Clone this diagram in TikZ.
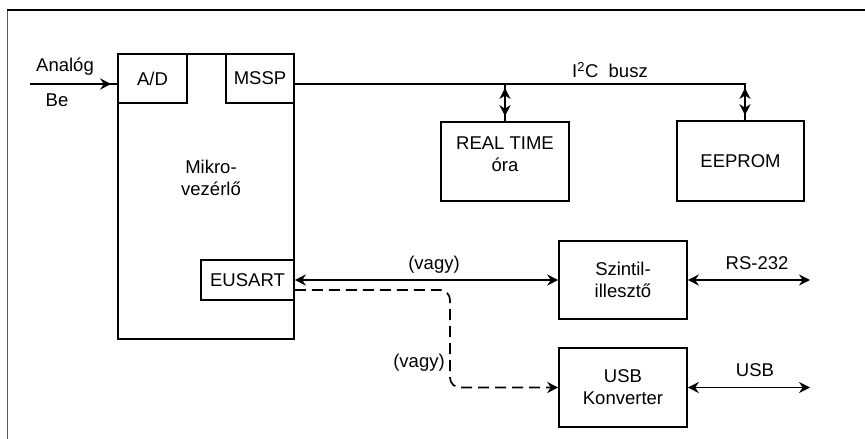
\documentclass[tikz,border=0pt]{standalone}
\usepackage{fontspec}
\setmainfont{Liberation Sans}
\usetikzlibrary{arrows.meta,calc}
\begin{document}
\begin{tikzpicture}[x=1pt,y=-1pt,
  every node/.style={font=\fontsize{18.5}{22}\selectfont},
  box/.style={draw,line width=1.6pt,inner sep=0pt,align=center},
  lbl/.style={inner sep=0pt,align=center},
  conn/.style={line width=1.7pt},
  tipr/.style={-{Stealth[length=11pt,width=11pt]}},
  dbl/.style={{Stealth[length=11pt,width=11pt]}-{Stealth[length=11pt,width=11pt]}},
  dsh/.style={dash pattern=on 11pt off 6pt}
]
\useasboundingbox (0,0) rectangle (865,439);
% frame
\draw[gray!70!black,line width=1pt] (7,439) -- (7,10);
\draw[line width=1.5pt] (7,10) -- (865,10);

% boxes
\node[box,minimum width=176pt,minimum height=285pt] (main) at (206,196.5) {};
\node[box,minimum width=69pt,minimum height=49pt] (ad) at (152.5,78.5) {A/D};
\node[box,minimum width=68pt,minimum height=49pt] (mssp) at (260,78.5) {MSSP};
\node[box,minimum width=93pt,minimum height=40pt,fill=white] (eusart) at (247.5,280) {EUSART};
\node[box,minimum width=128pt,minimum height=79pt] (rtc) at (505,161.5) {};
\node[box,minimum width=127pt,minimum height=80pt] (eeprom) at (740.5,161) {EEPROM};
\node[box,minimum width=128pt,minimum height=78pt] (szint) at (623,280) {Szintil-\\illesztő};
\node[box,minimum width=128pt,minimum height=79pt] (usb) at (623,387.5) {USB\\Konverter};

% labels
\node[lbl] (mikro) at (211,178) {Mikro-\\vezérlő};
\node[lbl] (rtctext) at (505,154) {REAL TIME\\óra};
\node[lbl] (analog) at (65,67) {Analóg};
\node[lbl] (be) at (57,100) {Be};
\node[lbl] (i2c) at (610,70) {I\textsuperscript{2}C\ \ busz};
\node[lbl] (vagy1) at (434,265) {(vagy)};
\node[lbl] (vagy2) at (419,363) {(vagy)};
\node[lbl] (rs) at (757,263) {RS-232};
\node[lbl] (usbl) at (755,370) {USB};

% analog input
\coordinate (ain) at (30,84);
\draw[conn] (ain) -- (ain -| ad.west);
\draw[conn,tipr] (ain) -- ($(ain -| ad.west)+(-6,0)$);

% I2C bus
\coordinate (j1) at (505,84);
\coordinate (j2) at (745,84);
\draw[conn] (mssp.east |- j1) -- (j2) -- (j2 |- eeprom.north);
\draw[conn] (j1) -- (j1 |- rtc.north);
\draw[conn,dbl] ($(j1)+(0,4)$) -- ($(j1 |- rtc.north)+(0,-5)$);
\draw[conn,dbl] ($(j2)+(0,4)$) -- ($(j2 |- eeprom.north)+(0,-5)$);

% EUSART links
\draw[conn,dbl] (eusart.east) -- (szint.west);
\coordinate (d0) at ($(eusart.east)+(0,10)$);
\coordinate (dx) at (450,0);
\draw[conn,dsh,rounded corners=10pt,tipr] (d0) -- (d0 -| dx) -- (dx |- usb.west) -- (usb.west);

% outputs
\coordinate (rsend) at (810,280);
\coordinate (usbend) at (810,387.5);
\draw[conn,dbl] (szint.east) -- (rsend);
\draw[conn,dbl] (usb.east) -- (usbend);
\end{tikzpicture}
\end{document}
